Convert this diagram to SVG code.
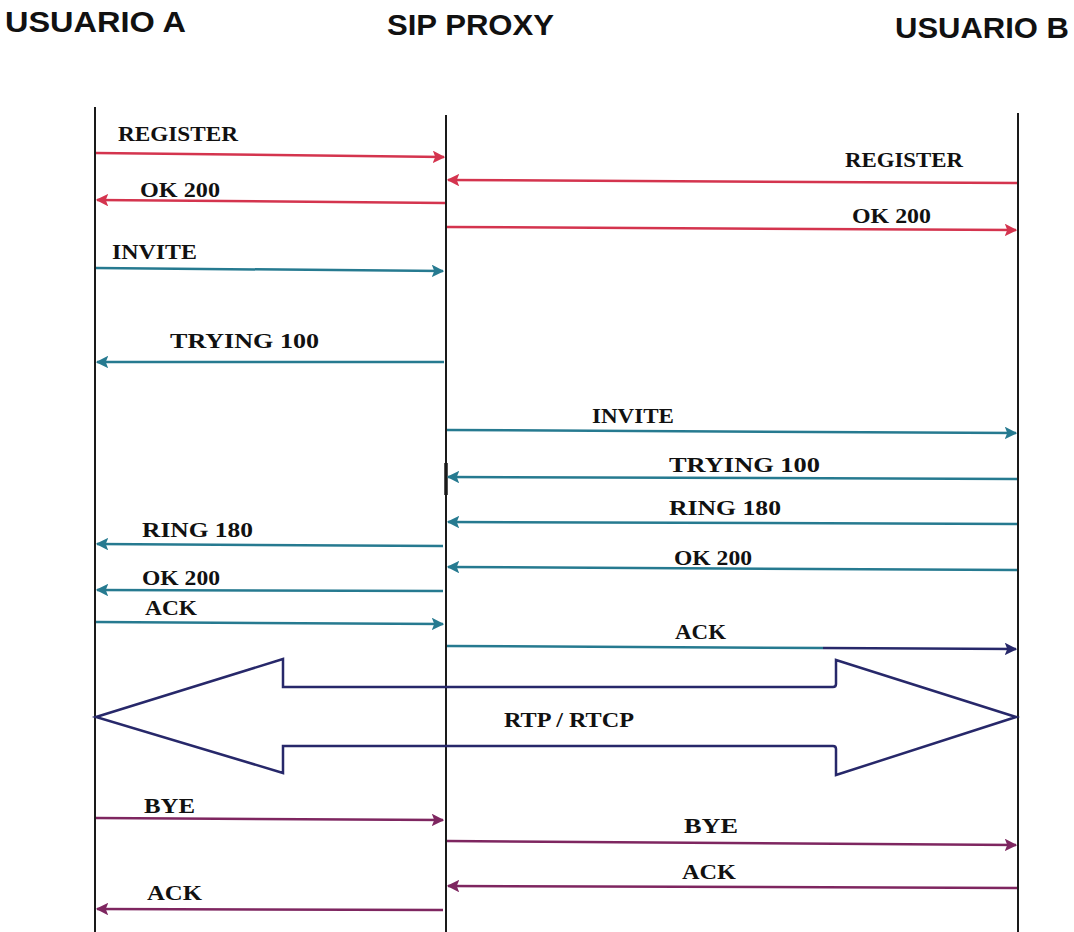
<svg xmlns="http://www.w3.org/2000/svg" width="1074" height="932" viewBox="0 0 1074 932">
  <style>
    .hdr { font-family: "Liberation Sans", Arial, sans-serif; font-weight: bold; font-size: 29px; fill: #111; }
    .life { stroke: #1a1a1a; stroke-width: 2; fill: none; }
    .lbl { font-family: "Liberation Serif", "Times New Roman", serif; font-weight: bold; font-size: 22px; fill: #111; }
    .red { stroke: #d4344e; stroke-width: 2.5; fill: none; }
    .teal { stroke: #267a90; stroke-width: 2.5; fill: none; }
    .navy { stroke: #27286a; stroke-width: 2.5; fill: none; }
    .pur { stroke: #7e2660; stroke-width: 2.5; fill: none; }
    .big { stroke: #27286a; stroke-width: 2.5; fill: none; stroke-linejoin: miter; }
  </style>
  <defs>
    <marker id="mRed" viewBox="0 0 10 10" refX="9" refY="5" markerWidth="5" markerHeight="5" orient="auto" markerUnits="strokeWidth">
      <path d="M0,0 L10,5 L0,10 L2,5 Z" fill="#d4344e"/>
    </marker>
    <marker id="mTeal" viewBox="0 0 10 10" refX="9" refY="5" markerWidth="5" markerHeight="5" orient="auto" markerUnits="strokeWidth">
      <path d="M0,0 L10,5 L0,10 L2,5 Z" fill="#267a90"/>
    </marker>
    <marker id="mNavy" viewBox="0 0 10 10" refX="9" refY="5" markerWidth="5" markerHeight="5" orient="auto" markerUnits="strokeWidth">
      <path d="M0,0 L10,5 L0,10 L2,5 Z" fill="#27286a"/>
    </marker>
    <marker id="mPur" viewBox="0 0 10 10" refX="9" refY="5" markerWidth="5" markerHeight="5" orient="auto" markerUnits="strokeWidth">
      <path d="M0,0 L10,5 L0,10 L2,5 Z" fill="#7e2660"/>
    </marker>
  </defs>

  <rect width="1074" height="932" fill="#fff"/>

  <!-- participants -->
  <g id="usuario-a">
    <text class="hdr" x="5" y="32" textLength="181" lengthAdjust="spacingAndGlyphs">USUARIO A</text>
    <line class="life" x1="95" y1="107" x2="95" y2="932"/>
  </g>
  <g id="sip-proxy">
    <text class="hdr" x="387" y="35" textLength="167" lengthAdjust="spacingAndGlyphs">SIP PROXY</text>
    <line class="life" x1="446" y1="115" x2="446" y2="932"/>
    <line stroke="#1a1a1a" stroke-width="3.5" x1="446" y1="463" x2="446" y2="495"/>
  </g>
  <g id="usuario-b">
    <text class="hdr" x="895" y="38" textLength="174" lengthAdjust="spacingAndGlyphs">USUARIO B</text>
    <line class="life" x1="1018" y1="113" x2="1018" y2="932"/>
  </g>

  <!-- media stream -->
  <g id="rtp-rtcp">
    <path class="big" d="M96,717 L283,659 L283,687 L833,687 Q836,687 836,684 L836,660 L1016,717 L836,775 L836,749 Q836,746 833,746 L283,746 L283,773 Z"/>
    <text class="lbl" x="504" y="727" textLength="130" lengthAdjust="spacingAndGlyphs">RTP / RTCP</text>
  </g>

  <!-- signalling messages -->
  <g id="connectors">
    <line class="red" x1="96" y1="153" x2="444" y2="157" marker-end="url(#mRed)"/>
    <line class="red" x1="1017" y1="183" x2="448" y2="180" marker-end="url(#mRed)"/>
    <line class="red" x1="445" y1="203" x2="97" y2="200" marker-end="url(#mRed)"/>
    <line class="red" x1="447" y1="227" x2="1016" y2="230" marker-end="url(#mRed)"/>

    <line class="teal" x1="96" y1="268" x2="443" y2="271" marker-end="url(#mTeal)"/>
    <line class="teal" x1="444" y1="362" x2="97" y2="362" marker-end="url(#mTeal)"/>
    <line class="teal" x1="447" y1="430" x2="1016" y2="433" marker-end="url(#mTeal)"/>
    <line class="teal" x1="1017" y1="479" x2="448" y2="477" marker-end="url(#mTeal)"/>
    <line class="teal" x1="1017" y1="524" x2="448" y2="522" marker-end="url(#mTeal)"/>
    <line class="teal" x1="443" y1="546" x2="97" y2="544" marker-end="url(#mTeal)"/>
    <line class="teal" x1="1017" y1="570" x2="448" y2="567" marker-end="url(#mTeal)"/>
    <line class="teal" x1="443" y1="591" x2="97" y2="590" marker-end="url(#mTeal)"/>
    <line class="teal" x1="96" y1="622" x2="443" y2="624" marker-end="url(#mTeal)"/>
    <line class="teal" x1="447" y1="646" x2="823" y2="648"/>
    <line class="navy" x1="823" y1="648" x2="1016" y2="649" marker-end="url(#mNavy)"/>

    <line class="pur" x1="96" y1="818" x2="443" y2="820" marker-end="url(#mPur)"/>
    <line class="pur" x1="447" y1="841" x2="1016" y2="845" marker-end="url(#mPur)"/>
    <line class="pur" x1="1017" y1="888" x2="448" y2="886" marker-end="url(#mPur)"/>
    <line class="pur" x1="443" y1="910" x2="97" y2="909" marker-end="url(#mPur)"/>
  </g>

  <!-- message labels -->
  <g id="labels">
    <text class="lbl" x="118" y="141" textLength="120" lengthAdjust="spacingAndGlyphs">REGISTER</text>
    <text class="lbl" x="845" y="167" textLength="118" lengthAdjust="spacingAndGlyphs">REGISTER</text>
    <text class="lbl" x="140" y="197" textLength="80" lengthAdjust="spacingAndGlyphs">OK 200</text>
    <text class="lbl" x="852" y="223" textLength="79" lengthAdjust="spacingAndGlyphs">OK 200</text>
    <text class="lbl" x="112" y="259" textLength="85" lengthAdjust="spacingAndGlyphs">INVITE</text>
    <text class="lbl" x="170" y="348" textLength="149" lengthAdjust="spacingAndGlyphs">TRYING 100</text>
    <text class="lbl" x="592" y="423" textLength="82" lengthAdjust="spacingAndGlyphs">INVITE</text>
    <text class="lbl" x="669" y="472" textLength="151" lengthAdjust="spacingAndGlyphs">TRYING 100</text>
    <text class="lbl" x="669" y="515" textLength="112" lengthAdjust="spacingAndGlyphs">RING 180</text>
    <text class="lbl" x="142" y="537" textLength="111" lengthAdjust="spacingAndGlyphs">RING 180</text>
    <text class="lbl" x="674" y="565" textLength="78" lengthAdjust="spacingAndGlyphs">OK 200</text>
    <text class="lbl" x="142" y="585" textLength="78" lengthAdjust="spacingAndGlyphs">OK 200</text>
    <text class="lbl" x="145" y="615" textLength="52" lengthAdjust="spacingAndGlyphs">ACK</text>
    <text class="lbl" x="675" y="639" textLength="51" lengthAdjust="spacingAndGlyphs">ACK</text>
    <text class="lbl" x="144" y="813" textLength="51" lengthAdjust="spacingAndGlyphs">BYE</text>
    <text class="lbl" x="684" y="833" textLength="54" lengthAdjust="spacingAndGlyphs">BYE</text>
    <text class="lbl" x="682" y="879" textLength="54" lengthAdjust="spacingAndGlyphs">ACK</text>
    <text class="lbl" x="147" y="900" textLength="55" lengthAdjust="spacingAndGlyphs">ACK</text>
  </g>
</svg>
